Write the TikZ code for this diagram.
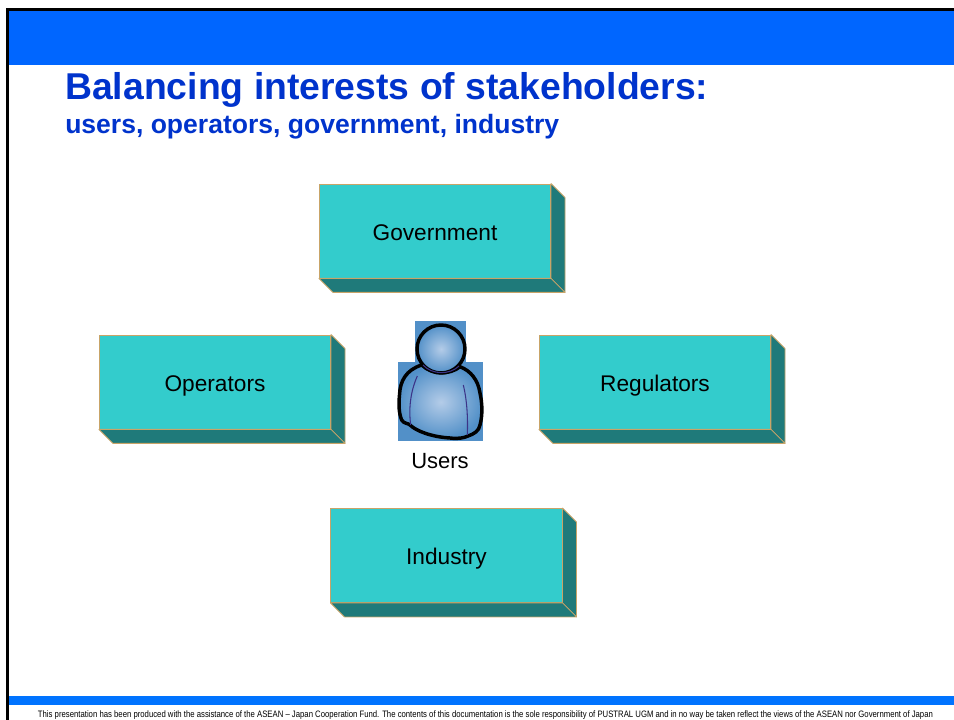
\documentclass[tikz,border=0pt]{standalone}
\usepackage{fontspec}
\setmainfont{Liberation Sans}
\usetikzlibrary{positioning, calc}
\definecolor{barblue}{HTML}{0066FF}
\definecolor{footblue}{HTML}{0073FF}
\definecolor{titleblue}{HTML}{0033CC}
\definecolor{boxfront}{HTML}{33CCCC}
\definecolor{boxside}{HTML}{1F7A7A}
\definecolor{boxedge}{HTML}{C8A468}
\definecolor{userblue}{HTML}{5290C8}
\definecolor{userlight}{HTML}{B4CCE8}
\definecolor{userline}{HTML}{3C3488}

\begin{document}
\begin{tikzpicture}[
    x=0.75pt, y=-0.75pt,
    box/.style={draw=boxedge, fill=boxfront, line width=0.6pt, minimum width=173.5pt, minimum height=70.5pt, inner sep=0pt, text height=14pt, text depth=0pt, font=\fontsize{17}{20}\selectfont},
    side/.style={draw=boxedge, fill=boxside, line width=0.6pt, line join=round},
    bar/.style={draw=none, inner sep=0pt, anchor=north west},
    userbg/.style={fill=userblue},
    usershade/.style={inner color=userlight, outer color=userblue},
    userout/.style={draw=black, line width=2.6pt},
    userfold/.style={draw=userline, line width=0.8pt}
]
\useasboundingbox (0,0) rectangle (954,720);

% Frame and bars
\fill[black] (6,8) rectangle (954,11);
\fill[black] (6,8) rectangle (9,720);
\node[bar, fill=barblue, minimum width=708.75pt, minimum height=40.5pt] (header) at (9,11) {};
\node[bar, fill=footblue, minimum width=708.75pt, minimum height=6.75pt] (footer) at (9,696) {};

% Title
\node[anchor=base west, text=titleblue, font=\fontsize{28}{32}\bfseries\selectfont, inner sep=0pt] (title) at (65,100) {Balancing interests of stakeholders:};
\node[anchor=base west, text=titleblue, font=\fontsize{19.9}{23}\bfseries\selectfont, inner sep=0pt] (subtitle) at (65,134) {users, operators, government, industry};

% Stakeholders
\node[box] (government) at (435,231) {Government};
\node[box] (operators) at (215,382) {Operators};
\node[box] (regulators) at (655,382) {Regulators};
\node[box] (industry) at (446.5,555.5) {Industry};

% Faces of the boxes
\foreach \n in {government,operators,regulators,industry} {
    \draw[side] (\n.north east) -- ++(14,14) -- ($(\n.south east)+(14,14)$) -- (\n.south east) -- cycle;
    \draw[side] (\n.south west) -- ++(14,14) -- ($(\n.south east)+(14,14)$) -- (\n.south east) -- cycle;
}

% Users
\fill[userbg] (415,321) rectangle (466,362);
\fill[userbg] (398,362) rectangle (483,441);
\shade[usershade, userout] (421.7,365) .. controls (406,370) and (400,381) .. (399.5,395)
    .. controls (398.5,405) and (399,414) .. (401.7,420)
    .. controls (404,424) and (408,423) .. (410,425)
    .. controls (416,431) and (432,437) .. (450,438)
    .. controls (458,439) and (464,438) .. (468,436)
    .. controls (474,434) and (479,431) .. (480,425)
    .. controls (483,414) and (482,402) .. (480,393)
    .. controls (478,380) and (471,371) .. (460,366.7)
    .. controls (450,375) and (432,375) .. (421.7,365) -- cycle;
\draw[userfold] (417.3,376) .. controls (412,388) and (408,405) .. (410.7,425);
\draw[userfold] (463.3,385) .. controls (467,400) and (468,418) .. (467.3,435);
\shade[usershade, userout] (441,349) circle (24);
\draw[userfold] (423,365) .. controls (432,375) and (450,375) .. (459,366);
\node[font=\fontsize{16.5}{19}\selectfont, inner sep=0pt] (users) at (440,461) {Users};

% Disclaimer
\node[font=\fontsize{7}{8}\selectfont, xscale=0.83, transform shape, inner sep=0pt] (note) at (485.5,715) {This presentation has been produced with the assistance of the ASEAN – Japan Cooperation Fund. The contents of this documentation is the sole responsibility of PUSTRAL UGM and in no way be taken reflect the views of the ASEAN nor Government of Japan};
\end{tikzpicture}
\end{document}
